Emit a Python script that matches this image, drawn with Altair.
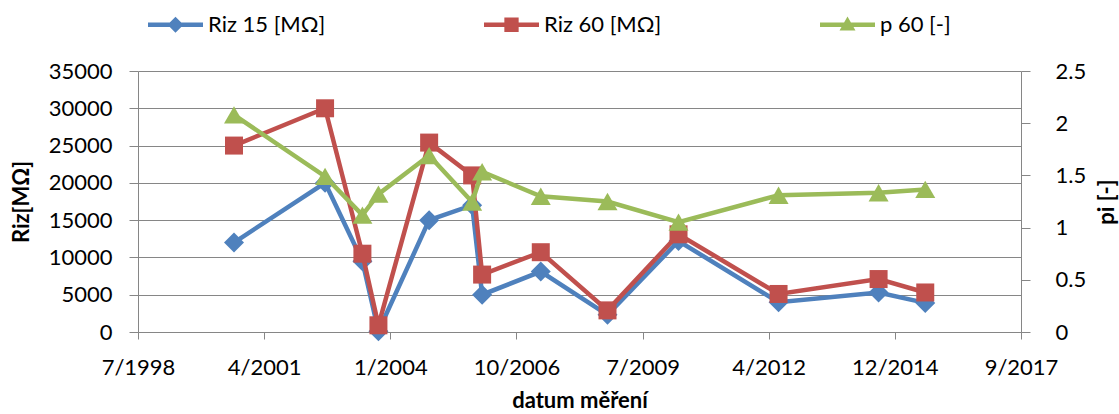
import altair as alt
import pandas as pd

# ---- data ----
dates = ["2000-08-23", "2002-08-15", "2003-06-07", "2003-10-12", "2004-11-17",
         "2005-10-24", "2006-01-11", "2007-04-21", "2008-10-01", "2010-04-17",
         "2012-06-18", "2014-08-20", "2015-08-25"]
riz15 = [12000, 20000, 9500, 100, 15000, 17000, 5000, 8100, 2300, 12200, 4000, 5300, 3900]
riz60 = [25000, 30000, 10500, 900, 25400, 21000, 7700, 10700, 2900, 13100, 5100, 7100, 5300]
p60 = [2.08, 1.49, 1.12, 1.32, 1.69, 1.245, 1.535, 1.30, 1.25, 1.053, 1.31, 1.334, 1.366]

series_names = ["Riz 15 [MΩ]", "Riz 60 [MΩ]", "p 60 [-]"]
colors = ["#4F81BD", "#C0504D", "#9BBB59"]
x_tick_dates = ["1998-07-24", "2001-04-19", "2004-01-14", "2006-10-10",
                "2009-07-06", "2012-04-01", "2014-12-27", "2017-09-22"]
riz_ticks = [0, 5000, 10000, 15000, 20000, 25000, 30000, 35000]
pi_ticks = [0, 0.5, 1, 1.5, 2, 2.5]

# legend symbols: line + marker (custom SVG paths in unit box)
legend_paths = [
    "M-1,-0.085L1,-0.085L1,0.085L-1,0.085Z M0,-0.29L0.29,0L0,0.29L-0.29,0Z",
    "M-1,-0.085L1,-0.085L1,0.085L-1,0.085Z M-0.26,-0.26L0.26,-0.26L0.26,0.26L-0.26,0.26Z",
    "M-1,-0.085L1,-0.085L1,0.085L-1,0.085Z M0,-0.3L0.29,0.21L-0.29,0.21Z",
]

df = pd.DataFrame({
    "date": dates * 3,
    "series": [series_names[0]] * len(dates) + [series_names[1]] * len(dates) + [series_names[2]] * len(dates),
    "value": riz15 + riz60 + p60,
})


def dt(s):
    y, m, d = (int(v) for v in s.split("-"))
    return alt.DateTime(year=y, month=m, date=d, utc=True)


FONT = "Lato"
GRAY = "#868686"

x_enc = alt.X(
    "date:T",
    scale=alt.Scale(type="utc", domain=[dt(x_tick_dates[0]), dt(x_tick_dates[-1])], nice=False),
    axis=alt.Axis(
        values=[dt(s) for s in x_tick_dates],
        labelExpr="utcFormat(datum.value, '%-m/%Y')",
        title="datum měření",
        grid=False, tickSize=7, labelPadding=18, labelOverlap=False,
        labelFlush=False, titlePadding=12,
    ),
)

y_left = alt.Y(
    "value:Q",
    scale=alt.Scale(domain=[0, 35000], nice=False, zero=False),
    axis=alt.Axis(
        orient="left", values=riz_ticks, format="d", title="Riz[MΩ]",
        grid=True, tickSize=9, labelPadding=17, titlePadding=15,
    ),
)

y_right = alt.Y(
    "value:Q",
    scale=alt.Scale(domain=[0, 2.5], nice=False, zero=False),
    axis=alt.Axis(
        orient="right", values=pi_ticks, format="~g", title="pi [-]",
        grid=False, tickSize=9, labelPadding=25, titlePadding=33, titleAngle=270,
    ),
)

base = alt.Chart(df)


def series_layers(name, color, shape, size, y):
    d = base.transform_filter(alt.datum.series == name)
    line = d.mark_line(color=color, strokeWidth=4.5).encode(x=x_enc, y=y)
    pts = d.mark_point(shape=shape, filled=True, size=size, color=color, opacity=1,
                       strokeWidth=0).encode(x=x_enc, y=y)
    return [line, pts]


legend_layer = base.mark_point(filled=True, opacity=0).encode(
    x=x_enc,
    y=y_left,
    color=alt.Color("series:N", scale=alt.Scale(domain=series_names, range=colors)),
    shape=alt.Shape(
        "series:N",
        scale=alt.Scale(domain=series_names, range=legend_paths),
        legend=alt.Legend(
            orient="none", legendX=10, legendY=-74, direction="horizontal",
            title=None, symbolSize=3025, symbolStrokeWidth=0, symbolOpacity=1,
            labelFont=FONT, labelFontSize=22, labelColor="black", labelOffset=5,
            columnPadding=158, labelLimit=300,
        ),
    ),
)

left = alt.layer(
    *series_layers(series_names[0], colors[0], "diamond", 400, y_left),
    *series_layers(series_names[1], colors[1], "square", 324, y_left),
    legend_layer,
)
right = alt.layer(*series_layers(series_names[2], colors[2], "triangle-up", 400, y_right))

chart = (
    alt.layer(left, right)
    .resolve_scale(y="independent")
    .properties(
        width=883, height=261,
        padding={"left": 138, "top": 71, "right": 98, "bottom": 82},
        autosize=alt.AutoSizeParams(type="none"),
        background="white",
    )
    .configure_view(stroke=None)
    .configure_axis(
        domainColor=GRAY, tickColor=GRAY, gridColor=GRAY, gridWidth=1, domainWidth=1, tickWidth=1,
        labelFont=FONT, labelFontSize=22, labelColor="black",
        titleFont=FONT, titleFontSize=22, titleFontWeight="bold", titleColor="black",
    )
    .configure_legend(labelFont=FONT)
)

chart.save("out.html", embed_options={"renderer": "svg", "actions": False})
